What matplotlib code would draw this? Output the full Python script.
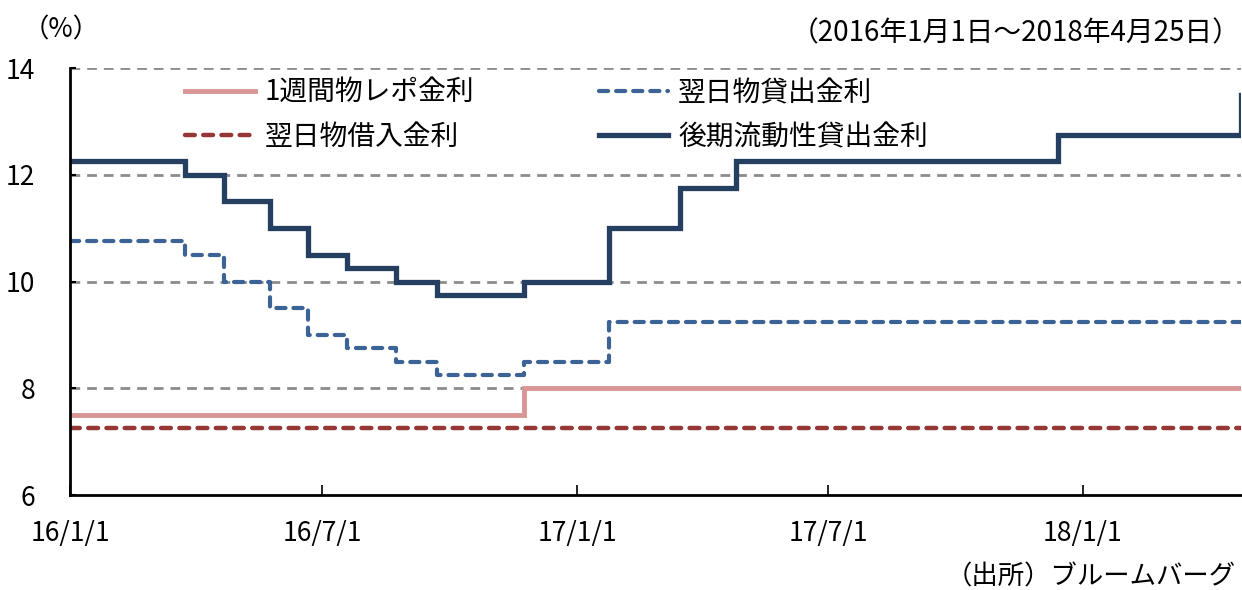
import matplotlib
matplotlib.use("Agg")
import matplotlib.pyplot as plt
import pandas as pd

plt.rcParams["font.family"] = ["Noto Sans CJK JP", "DejaVu Sans"]

START = "2016-01-01"
END = "2018-04-25"

# 政策金利の変更日と水準 (%)
repo_dates = ["2016-01-01", "2016-11-24"]
repo_rates = [7.5, 8.0]

borrow_dates = ["2016-01-01"]
borrow_rates = [7.25]

lend_dates = ["2016-01-01", "2016-03-24", "2016-04-21", "2016-05-24", "2016-06-21",
              "2016-07-19", "2016-08-23", "2016-09-22", "2016-11-24", "2017-01-24"]
lend_rates = [10.75, 10.5, 10.0, 9.5, 9.0, 8.75, 8.5, 8.25, 8.5, 9.25]

llw_dates = ["2016-01-01", "2016-03-24", "2016-04-21", "2016-05-24", "2016-06-21",
             "2016-07-19", "2016-08-23", "2016-09-22", "2016-11-24", "2017-01-24",
             "2017-03-16", "2017-04-26", "2017-12-14", "2018-04-25"]
llw_rates = [12.25, 12.0, 11.5, 11.0, 10.5, 10.25, 10.0, 9.75, 10.0, 11.0,
             11.75, 12.25, 12.75, 13.5]

tick_dates = ["2016-01-01", "2016-07-01", "2017-01-01", "2017-07-01", "2018-01-01"]
tick_labels = ["16/1/1", "16/7/1", "17/1/1", "17/7/1", "18/1/1"]


def step_series(dates, rates):
    x = list(pd.to_datetime(dates))
    y = list(rates)
    end = pd.Timestamp(END)
    if x[-1] < end:
        x.append(end)
        y.append(y[-1])
    else:
        # 最終日の変更は1日で切り替わる
        x.insert(-1, end - pd.Timedelta(days=1))
        y.insert(-1, y[-2])
    return x, y


fig = plt.figure(figsize=(12.42, 5.9), dpi=100)
ax = fig.add_axes([0.0564, 0.161, 0.9426, 0.7237])

series = [
    (repo_dates, repo_rates, "1週間物レポ金利", "#D99694", "-", 3.5),
    (borrow_dates, borrow_rates, "翌日物借入金利", "#953735", (0, (2.2, 1.9)), 3.2),
    (lend_dates, lend_rates, "翌日物貸出金利", "#3B6396", (0, (2.2, 1.9)), 3.0),
    (llw_dates, llw_rates, "後期流動性貸出金利", "#243F60", "-", 3.8),
]

for dates, rates, label, color, ls, lw in series:
    x, y = step_series(dates, rates)
    ax.step(x, y, where="post", color=color, linestyle=ls, linewidth=lw,
            label=label, solid_joinstyle="miter", dash_capstyle="round")

ax.set_xlim(pd.Timestamp(START), pd.Timestamp(END))
ax.set_ylim(6, 14)
ax.set_yticks([6, 8, 10, 12, 14])
for yv in [8, 10, 12, 14]:
    ax.axhline(yv, color="#8C8C8C", linestyle=(0, (3.5, 2.5)), linewidth=2, zorder=0)

ax.set_xticks(pd.to_datetime(tick_dates))
ax.set_xticklabels(tick_labels)
ax.tick_params(axis="x", direction="in", length=7, width=1.2, pad=18, labelsize=19)
ax.tick_params(axis="y", direction="in", length=4, width=1.5, pad=25, labelsize=19)

for side in ["top", "right"]:
    ax.spines[side].set_visible(False)
for side in ["left", "bottom"]:
    ax.spines[side].set_linewidth(2)
    ax.spines[side].set_color("black")

ax.legend(ncol=2, loc="upper left", bbox_to_anchor=(0.077, 1.035), frameon=False,
          fontsize=20, handlelength=2.5, handletextpad=0.35, columnspacing=4.5,
          labelspacing=0.5)

fig.text(0.018, 0.949, "（%）", fontsize=19, ha="left", va="center")
fig.text(0.999, 0.944, "（2016年1月1日～2018年4月25日）", fontsize=20,
         ha="right", va="center")
fig.text(0.995, 0.022, "（出所）ブルームバーグ", fontsize=19, ha="right", va="center")

fig.savefig("out.png", dpi=100, facecolor="white")
